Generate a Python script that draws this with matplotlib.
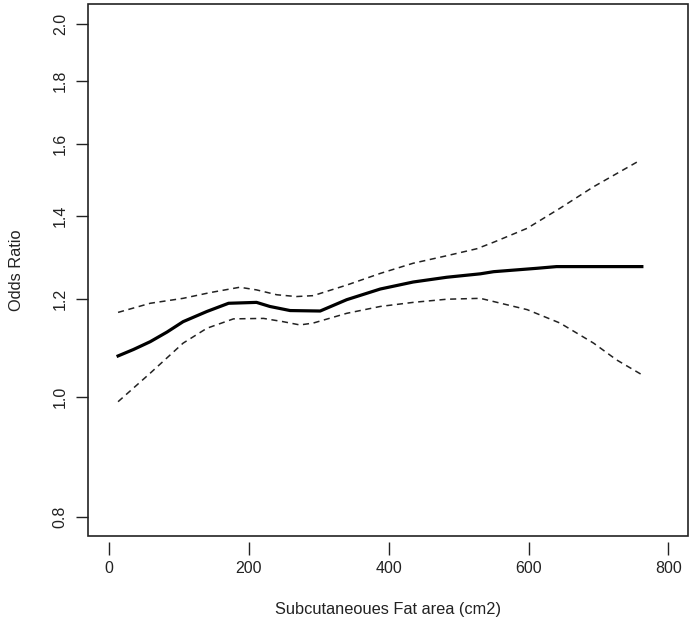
import matplotlib
matplotlib.use("Agg")
import matplotlib.pyplot as plt
from matplotlib.patches import Rectangle
from matplotlib.ticker import FixedLocator, NullLocator

plt.rcParams['font.family'] = ['Liberation Sans', 'DejaVu Sans']

# Estimated odds ratio (solid) and 95% CI (dashed)
x_fit = [13, 35, 59, 83, 106, 140, 171, 211, 230, 259, 302, 340, 388, 435, 483, 531, 550, 612, 640, 700, 762]
or_fit = [1.079, 1.092, 1.108, 1.128, 1.150, 1.172, 1.190, 1.192, 1.183, 1.174, 1.173, 1.198, 1.222, 1.238, 1.249, 1.257, 1.262, 1.270, 1.274, 1.274, 1.274]

x_up = [13, 59, 106, 145, 187, 211, 240, 268, 292, 340, 388, 435, 483, 526, 550, 598, 645, 693, 760]
or_up = [1.170, 1.190, 1.201, 1.214, 1.226, 1.220, 1.209, 1.205, 1.207, 1.231, 1.258, 1.282, 1.300, 1.317, 1.333, 1.368, 1.420, 1.478, 1.553]

x_lo = [13, 59, 106, 140, 178, 221, 249, 273, 292, 340, 388, 435, 483, 531, 598, 645, 693, 726, 762]
or_lo = [0.991, 1.045, 1.105, 1.136, 1.156, 1.157, 1.150, 1.143, 1.147, 1.168, 1.183, 1.192, 1.199, 1.201, 1.176, 1.147, 1.105, 1.071, 1.042]

x_ticks = [0, 200, 400, 600, 800]
y_ticks = [0.8, 1.0, 1.2, 1.4, 1.6, 1.8, 2.0]
y_tick_labels = ["0.8", "1.0", "1.2", "1.4", "1.6", "1.8", "2.0"]

fig = plt.figure(figsize=(6.93, 6.28), dpi=100)
ax = fig.add_axes([88/693, 1-536/628, 600/693, 532/628])
ax.set_yscale('log')

ax.plot(x_fit, or_fit, color='black', lw=2.3, solid_joinstyle='round')
ax.plot(x_up, or_up, color='#222222', lw=1.1, dashes=(4, 3))
ax.plot(x_lo, or_lo, color='#222222', lw=1.1, dashes=(4, 3))

ax.set_xlim(-30, 828)
ax.set_ylim(0.772, 2.076)

ax.yaxis.set_major_locator(FixedLocator(y_ticks))
ax.yaxis.set_minor_locator(NullLocator())
ax.set_yticklabels(y_tick_labels, rotation=90, va='center')
ax.set_xticks(x_ticks)
ax.set_xticklabels([str(v) for v in x_ticks])

for s in ax.spines.values():
    s.set_visible(False)
ax.spines['bottom'].set_position(('outward', 4))
ax.add_patch(Rectangle((0, 0), 1, 1, transform=ax.transAxes, fill=False,
                       edgecolor='#222222', lw=1.2, clip_on=False))

ax.tick_params(axis='both', direction='out', length=9, width=1.0, color='#222222',
               labelsize=11.5, labelcolor='#222222')
ax.tick_params(axis='x', pad=5)
ax.tick_params(axis='y', pad=5.5)

ax.set_xlabel("Subcutaneoues Fat area (cm2)", fontsize=11.8, color='#222222', labelpad=19)
ax.set_ylabel("Odds Ratio", fontsize=11.8, color='#222222', labelpad=21)

fig.savefig("out.png", dpi=100, facecolor='white')
